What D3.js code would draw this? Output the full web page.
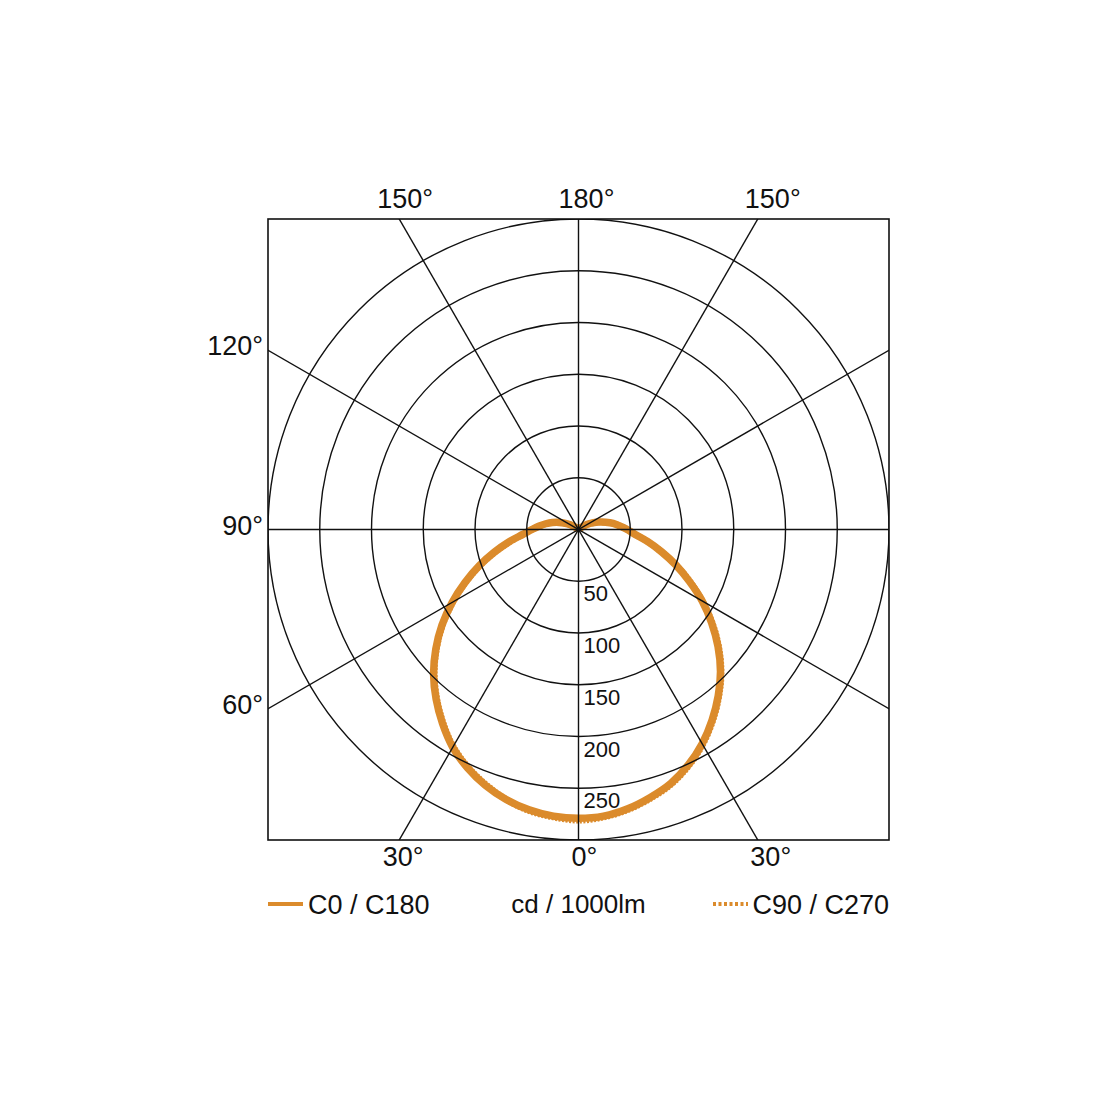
<!DOCTYPE html>
<html>
<head>
<meta charset="utf-8">
<script src="https://cdn.jsdelivr.net/npm/d3@7"></script>
<style>
  body { margin: 0; background: #fff; }
  text { font-family: "Liberation Sans", Arial, Helvetica, sans-serif; fill: #111; }
</style>
</head>
<body>
<div id="chart"></div>
<script>
// gamma angles (deg) and intensities (cd/1000lm)
var gammas = [0,5,10,15,20,25,30,35,40,45,50,55,60,65,70,75,80,85,90,95,100,105,110,115,120,125,130,135,140,145,150,155,160,165,170,175,180];
var c180 = [279,278,275,270,263,254,243,229,214,198,180,161,141,121,102,84,68,54,45,38,32,26,20,14,9,5,2,0,0,0,0,0,0,0,0,0,0];
var c0   = [279,278,274,268,261,251,239,225,210,194,176,157,138,118,100,83,68,55,47,40,34,27,21,15,10,5,2,0,0,0,0,0,0,0,0,0,0];
var c270 = [281,279,276,270,262,253,242,228,213,197,179,160,140,120,101,83,67,54,45,38,32,26,20,14,9,5,2,0,0,0,0,0,0,0,0,0,0];
var c90  = [281,279,275,269,262,252,240,226,211,195,177,158,138,119,100,83,68,55,47,40,34,27,21,15,10,5,2,0,0,0,0,0,0,0,0,0,0];

var ringTicks = [50,100,150,200,250];
var rings = [50,100,150,200,250,300];
var spokes = [0,30,60,90,120,150];
var topAngles = [150,180,150];
var bottomAngles = [30,0,30];
var leftAngles = [120,90,60];
var legendNames = ["C0 / C180","C90 / C270"];
var unitLabel = "cd / 1000lm";

var W = 1100, H = 1100,
	cx = 578.5, cy = 529.5,
	half = 310.5,
	orange = "#DB8B2C";

var svg = d3.select("#chart").append("svg")
	.attr("width", W)
	.attr("height", H);

var r = d3.scaleLinear().domain([0, 300]).range([0, half]);

svg.append("defs").append("clipPath").attr("id", "box")
	.append("rect")
	.attr("x", cx - half).attr("y", cy - half)
	.attr("width", half*2).attr("height", half*2);

var g = svg.append("g").attr("transform", "translate(" + cx + "," + cy + ")");

//grid circles
var grid = svg.append("g").attr("clip-path", "url(#box)")
	.append("g").attr("transform", "translate(" + cx + "," + cy + ")");

grid.selectAll("circle.ring")
	.data(rings).enter().append("circle")
	.attr("class", "ring")
	.attr("r", function(d) {return r(d);})
	.style("fill", "none")
	.style("stroke", "#111")
	.style("stroke-width", 1.4);

//spokes through the centre, clipped by the box
grid.selectAll("line.spoke")
	.data(spokes).enter().append("line")
	.attr("class", "spoke")
	.attr("x1", function(d) {return -600*Math.sin(d*Math.PI/180);})
	.attr("y1", function(d) {return -600*Math.cos(d*Math.PI/180);})
	.attr("x2", function(d) {return 600*Math.sin(d*Math.PI/180);})
	.attr("y2", function(d) {return 600*Math.cos(d*Math.PI/180);})
	.style("stroke", "#111")
	.style("stroke-width", 1.4);

//frame
svg.append("rect")
	.attr("x", cx - half).attr("y", cy - half)
	.attr("width", half*2).attr("height", half*2)
	.style("fill", "none")
	.style("stroke", "#111")
	.style("stroke-width", 1.6);

//ring values
g.selectAll("text.ringLabel")
	.data(ringTicks).enter().append("text")
	.attr("class", "ringLabel")
	.attr("x", 5)
	.attr("y", function(d) {return r(d) + 20;})
	.style("font-size", "22px")
	.text(function(d) {return d;});

//angle labels
var sideShift = [6, 8, 15];
g.selectAll("text.topLabel")
	.data(topAngles).enter().append("text")
	.attr("class", "topLabel")
	.attr("text-anchor", "middle")
	.attr("x", function(d, i) {return (i - 1)*half*Math.tan((180 - d)*Math.PI/180) + sideShift[i];})
	.attr("y", -half - 11)
	.style("font-size", "27px")
	.text(function(d) {return d + "°";});

g.selectAll("text.bottomLabel")
	.data(bottomAngles).enter().append("text")
	.attr("class", "bottomLabel")
	.attr("text-anchor", "middle")
	.attr("x", function(d, i) {return (i - 1)*half*Math.tan(d*Math.PI/180) + sideShift[i] - 2;})
	.attr("y", half + 26)
	.style("font-size", "27px")
	.text(function(d) {return d + "°";});

g.selectAll("text.leftLabel")
	.data(leftAngles).enter().append("text")
	.attr("class", "leftLabel")
	.attr("text-anchor", "end")
	.attr("x", -half - 5)
	.attr("y", function(d) {return half/Math.tan(d*Math.PI/180) + 5;})
	.style("font-size", "27px")
	.text(function(d) {return d + "°";});

//build closed polar outline: left half (C180 / C270) then right half (C0 / C90)
function outline(leftVals, rightVals) {
	var pts = [];
	for (var i = gammas.length - 1; i >= 0; i--) pts.push([Math.PI + gammas[i]*Math.PI/180, r(leftVals[i])]);
	for (var j = 1; j < gammas.length; j++) pts.push([Math.PI - gammas[j]*Math.PI/180, r(rightVals[j])]);
	return pts;
}

var radial = d3.lineRadial()
	.angle(function(d) {return d[0];})
	.radius(function(d) {return d[1];})
	.curve(d3.curveCatmullRom);

g.append("path")
	.attr("d", radial(outline(c180, c0)))
	.style("fill", "none")
	.style("stroke", orange)
	.style("stroke-width", 7.5)
	.style("stroke-linejoin", "round");

g.append("path")
	.attr("d", radial(outline(c270, c90)))
	.style("fill", "none")
	.style("stroke", orange)
	.style("stroke-width", 6.5)
	.style("stroke-dasharray", "2,1.5");

//legend
var ly = 904;
svg.append("line")
	.attr("x1", cx - half).attr("x2", cx - half + 35)
	.attr("y1", ly).attr("y2", ly)
	.style("stroke", orange)
	.style("stroke-width", 4);

svg.append("text")
	.attr("x", cx - half + 40).attr("y", ly + 10)
	.style("font-size", "27px")
	.text(legendNames[0]);

svg.append("text")
	.attr("x", cx).attr("y", ly + 9)
	.attr("text-anchor", "middle")
	.style("font-size", "26px")
	.text(unitLabel);

svg.append("line")
	.attr("x1", cx + half - 176).attr("x2", cx + half - 141)
	.attr("y1", ly).attr("y2", ly)
	.style("stroke", orange)
	.style("stroke-width", 4)
	.style("stroke-dasharray", "3,2.5");

svg.append("text")
	.attr("x", cx + half).attr("y", ly + 10)
	.attr("text-anchor", "end")
	.style("font-size", "27px")
	.text(legendNames[1]);
</script>
</body>
</html>
